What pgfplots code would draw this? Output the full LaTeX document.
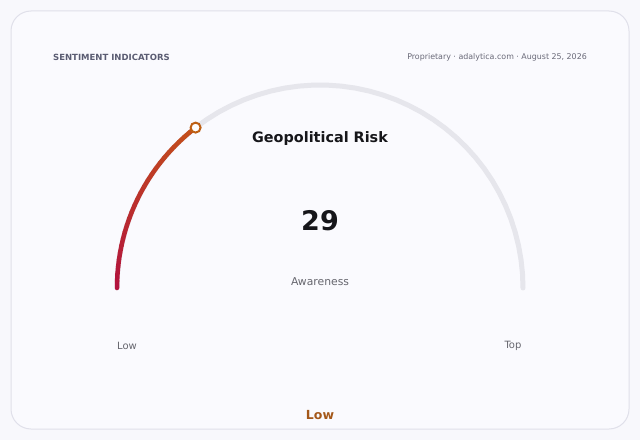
\documentclass[border=0pt]{standalone}
\usepackage{pgfplots}
\pgfplotsset{compat=1.18}
\usepackage{fontspec}
\setmainfont{DejaVu Sans}

\definecolor{pagebg}{RGB}{248,248,252}
\definecolor{cardbg}{RGB}{250,250,254}
\definecolor{cardline}{RGB}{224,224,234}
\definecolor{trackc}{RGB}{230,230,236}
\definecolor{headc}{RGB}{90,92,114}
\definecolor{subc}{RGB}{105,105,120}
\definecolor{titlec}{RGB}{22,22,26}
\definecolor{mutedc}{RGB}{102,102,110}
\definecolor{markc}{RGB}{190,96,20}
\definecolor{statusc}{RGB}{164,88,26}

% gauge track (angle in degrees, radius in px)
\pgfplotstableread{
a r
180 203
176 203
172 203
168 203
164 203
160 203
156 203
152 203
148 203
144 203
140 203
136 203
132 203
128 203
124 203
120 203
116 203
112 203
108 203
104 203
100 203
96 203
92 203
88 203
84 203
80 203
76 203
72 203
68 203
64 203
60 203
56 203
52 203
48 203
44 203
40 203
36 203
32 203
28 203
24 203
20 203
16 203
12 203
8 203
4 203
0 203
}\track

% value arc: 29 of 100 -> from 180 deg down to 127.8 deg
\pgfplotstableread{
a r
180 203
178 203
176 203
174 203
172 203
170 203
168 203
166 203
164 203
162 203
160 203
158 203
156 203
154 203
152 203
150 203
148 203
146 203
144 203
142 203
140 203
138 203
136 203
134 203
132 203
130 203
127.8 203
}\valarc

\begin{document}
\begin{tikzpicture}
\fill[pagebg] (0,0) rectangle (640pt,440pt);
\begin{axis}[
    at={(0,0)}, anchor=south west,
    scale only axis, width=640pt, height=440pt,
    xmin=-320, xmax=320, ymin=-152, ymax=288,
    hide axis, clip=false,
]
    % card
    \draw[fill=cardbg, draw=cardline, line width=1pt, rounded corners=20pt]
        (axis cs:-309,277) rectangle (axis cs:309,-141);

    % header
    \node[anchor=west, inner sep=0, font=\fontsize{8.5}{10}\selectfont\bfseries, text=headc]
        at (axis cs:-267,231) {SENTIMENT INDICATORS};
    \node[anchor=east, inner sep=0, font=\fontsize{7.9}{9}\selectfont, text=subc]
        at (axis cs:267,231) {Proprietary · adalytica.com · August 25, 2026};

    % track
    \addplot[no marks, draw=trackc, line width=5pt, line cap=round, line join=round,
        data cs=polar]
        table[x=a, y=r] {\track};

    % value arc with gradient
    \addplot[mesh, no marks, line width=4.5pt, line cap=round, line join=round,
        data cs=polar,
        point meta=\thisrow{a}, point meta min=127.8, point meta max=180,
        colormap={gauge}{rgb255=(196,80,26) rgb255=(178,18,62)}]
        table[x=a, y=r] {\valarc};

    % marker at value end
    \addplot[only marks, mark=*, mark size=5pt, data cs=polar,
        mark options={fill=white, draw=markc, line width=2pt}]
        coordinates {(127.8,203)};

    % texts
    \node[inner sep=0, font=\fontsize{14.4}{16}\selectfont\bfseries, text=titlec]
        at (axis cs:0,149) {Geopolitical Risk};
    \node[inner sep=0, font=\fontsize{27}{30}\selectfont\bfseries, text=titlec]
        at (axis cs:0,67) {29};
    \node[inner sep=0, font=\fontsize{10.8}{12}\selectfont, text=mutedc]
        at (axis cs:0,6) {Awareness};
    \node[inner sep=0, font=\fontsize{10}{12}\selectfont, text=mutedc]
        at (axis cs:-193,-58) {Low};
    \node[inner sep=0, font=\fontsize{10}{12}\selectfont, text=mutedc]
        at (axis cs:193,-58) {Top};
    \node[inner sep=0, font=\fontsize{12.5}{14}\selectfont\bfseries, text=statusc]
        at (axis cs:0,-127) {Low};
\end{axis}
\end{tikzpicture}
\end{document}
